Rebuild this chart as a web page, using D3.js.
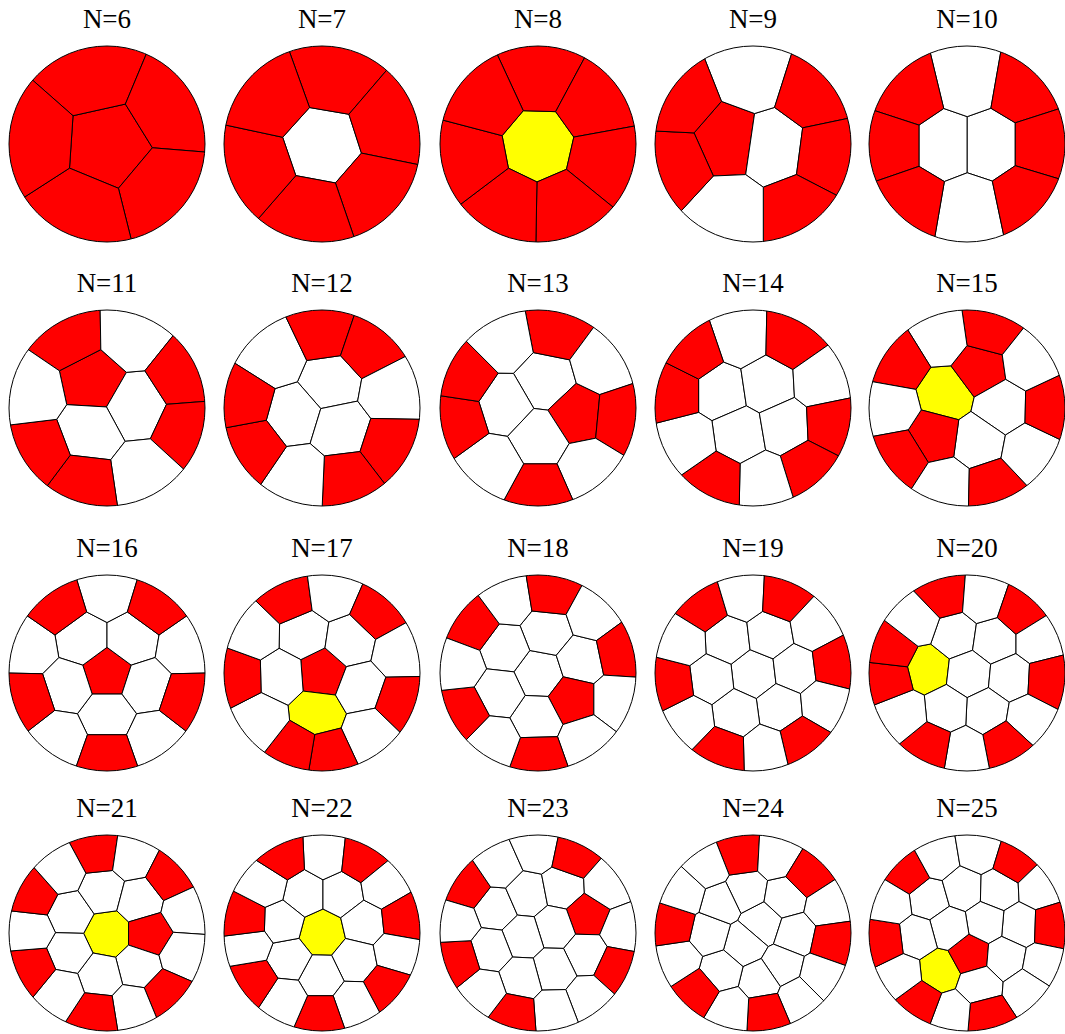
<!DOCTYPE html>
<html>
<head>
<meta charset="utf-8">
<script src="https://cdn.jsdelivr.net/npm/d3@7"></script>
<style>
  body { margin: 0; background: #fff; }
</style>
</head>
<body>
<svg width="1065" height="1034"></svg>
<script>
// generator points of every tessellation, in units of the disk radius (y grows downward)
// kind: R = red cell, W = white cell, Y = yellow cell (one letter per point)
const pts6 = [[0.01,0.01],[-0.15,-0.71],[0.64,-0.38],[0.57,0.48],[-0.27,0.69],[-0.74,-0.04]];
const kind6 = "RRRRRR";
const pts7 = [[0.00,0.01],[0.12,-0.69],[0.68,-0.21],[0.54,0.48],[-0.13,0.71],[-0.67,0.24],[-0.52,-0.46]];
const kind7 = "WRRRRRR";
const pts8 = [[0.00,0.01],[0.02,-0.68],[0.56,-0.39],[0.66,0.16],[0.27,0.64],[-0.30,0.63],[-0.67,0.14],[-0.52,-0.43]];
const kind8 = "YRRRRRRR";
const pts9 = [[-0.27,-0.03],[0.21,0.04],[-0.02,-0.71],[0.61,-0.51],[0.74,0.11],[0.45,0.67],[-0.24,0.67],[-0.76,0.19],[-0.73,-0.43]];
const kind9 = "RWWRRRWRR";
const pts10 = [[-0.23,0.01],[0.235,0.01],[0.0,-0.65],[0.02,0.66],[-0.58,-0.51],[-0.75,0.01],[-0.56,0.56],[0.57,-0.55],[0.75,0.01],[0.59,0.54]];
const kind10 = "WWWWRRRRRR";
const pts11 = [[-0.15,-0.28],[0.30,-0.02],[-0.18,0.24],[-0.37,-0.71],[0.24,-0.72],[0.75,-0.31],[0.79,0.21],[0.37,0.67],[-0.24,0.76],[-0.68,0.43],[-0.75,-0.15]];
const kind11 = "RWWRWRRWRRW";
const pts12 = [[0.09,-0.27],[-0.30,0.07],[0.19,0.22],[-0.48,-0.52],[0.02,-0.76],[0.46,-0.61],[0.69,-0.16],[0.68,0.38],[0.25,0.71],[-0.22,0.69],[-0.69,0.37],[-0.77,-0.06]];
const kind12 = "WWWWRRWRRWRR";
const pts13 = [[0.08,-0.28],[-0.35,-0.03],[0.40,0.06],[0.01,0.31],[0.18,-0.78],[0.64,-0.44],[0.82,0.10],[0.51,0.61],[0.01,0.83],[-0.45,0.58],[-0.79,0.11],[-0.73,-0.29],[-0.34,-0.68]];
const kind13 = "WWRWRWRWRWRRW";
const pts14 = [[-0.33,-0.17],[0.14,-0.24],[-0.14,0.27],[0.33,0.19],[-0.12,-0.71],[0.39,-0.70],[0.69,-0.27],[0.78,0.17],[0.56,0.60],[0.11,0.74],[-0.38,0.73],[-0.65,0.34],[-0.78,-0.17],[-0.59,-0.55]];
const kind14 = "WWWWWRWRRWRWRR";
const pts15 = [[-0.22,-0.14],[0.13,-0.40],[0.35,-0.01],[0.11,0.34],[-0.33,0.28],[0.23,-0.78],[-0.26,-0.71],[-0.68,-0.45],[-0.76,0.00],[-0.67,0.49],[-0.22,0.78],[0.26,0.79],[0.63,0.44],[0.84,0.00],[0.62,-0.47]];
const kind15 = "YRWWRRWRWRWRWRW";
const pts16 = [[0.00,0.00],[-0.25,-0.34],[0.25,-0.34],[0.40,0.13],[0.00,0.43],[-0.40,0.13],[0.00,-0.82],[0.78,-0.25],[0.48,0.66],[-0.48,0.66],[-0.78,-0.25],[0.49,-0.67],[0.79,0.26],[0.00,0.83],[-0.79,0.26],[-0.49,-0.67]];
const kind16 = "RWWWWWWWWWWRRRRR";
const pts17 = [[0.00,0.00],[-0.05,0.41],[-0.19,-0.39],[0.28,-0.32],[0.39,0.15],[-0.41,0.03],[-0.34,-0.75],[0.10,-0.81],[0.56,-0.61],[0.78,-0.21],[0.79,0.29],[0.48,0.61],[0.05,0.81],[-0.25,0.76],[-0.62,0.47],[-0.84,0.04],[-0.68,-0.40]];
const kind17 = "RYWWWWRWRWRWRRWRW";
const pts18 = [[0.01,0.01],[0.09,-0.42],[-0.34,-0.25],[0.44,-0.13],[0.35,0.27],[-0.01,0.46],[-0.39,0.20],[-0.65,-0.48],[-0.30,-0.74],[0.13,-0.81],[0.55,-0.58],[0.82,-0.21],[0.79,0.27],[0.48,0.68],[0.00,0.85],[-0.44,0.69],[-0.75,0.39],[-0.80,-0.08]];
const kind18 = "WWWWRWWRWRWRWWRWRW";
const pts19 = [[0.01,0.01],[-0.26,-0.34],[0.17,-0.39],[0.43,-0.04],[0.27,0.35],[-0.17,0.41],[-0.43,0.06],[-0.50,-0.66],[-0.10,-0.78],[0.31,-0.76],[0.62,-0.47],[0.82,-0.09],[0.72,0.31],[0.50,0.69],[0.12,0.78],[-0.31,0.79],[-0.64,0.47],[-0.82,0.11],[-0.71,-0.32]];
const kind19 = "WWWWWWWRWRWRWRWRWRW";
const pts20 = [[-0.41,-0.04],[-0.13,-0.39],[0.28,-0.33],[0.02,0.01],[0.44,0.05],[0.20,0.39],[-0.21,0.37],[-0.23,-0.78],[0.16,-0.75],[0.54,-0.62],[0.72,-0.33],[0.82,0.07],[0.62,0.46],[0.39,0.71],[-0.02,0.79],[-0.37,0.73],[-0.63,0.41],[-0.77,0.05],[-0.74,-0.21],[-0.50,-0.52]];
const kind20 = "YWWWWWWRWRWRWRWRWRRW";
const pts21 = [[0.01,0.01],[-0.38,-0.20],[-0.05,-0.43],[0.33,-0.33],[0.43,0.01],[0.32,0.34],[-0.07,0.44],[-0.39,0.20],[-0.09,-0.82],[0.25,-0.77],[0.64,-0.57],[0.80,-0.22],[0.77,0.22],[0.60,0.61],[0.26,0.75],[-0.11,0.81],[-0.46,0.58],[-0.74,0.35],[-0.77,-0.02],[-0.73,-0.38],[-0.46,-0.62]];
const kind21 = "YWWWRWWWRWRWWRWRWRWRW";
const pts22 = [[0.00,0.00],[-0.18,-0.40],[0.20,-0.40],[0.43,-0.10],[0.34,0.28],[-0.01,0.45],[-0.34,0.27],[-0.41,-0.11],[0.03,-0.78],[0.40,-0.74],[0.62,-0.47],[0.81,-0.14],[0.75,0.20],[0.65,0.54],[0.33,0.71],[-0.01,0.83],[-0.38,0.67],[-0.67,0.48],[-0.73,0.12],[-0.76,-0.12],[-0.57,-0.49],[-0.40,-0.76]];
const kind22 = "YWWWWWWWWRWRWRWRWRWRWR";
const pts23 = [[-0.43,-0.25],[-0.11,-0.39],[0.25,-0.46],[0.50,-0.18],[0.17,-0.06],[-0.15,0.04],[-0.48,0.17],[0.49,0.21],[0.16,0.37],[-0.17,0.46],[-0.71,-0.47],[-0.40,-0.68],[-0.02,-0.85],[0.36,-0.77],[0.69,-0.48],[0.86,-0.03],[0.79,0.35],[0.51,0.66],[0.17,0.79],[-0.24,0.82],[-0.54,0.59],[-0.80,0.27],[-0.82,-0.10]];
const kind23 = "WWWRWWWWWWRWWRWWRWWRWRW";
const pts24 = [[0.09,-0.10],[-0.09,0.11],[-0.08,-0.43],[0.33,-0.36],[0.43,0.01],[0.30,0.34],[0.08,0.49],[-0.33,0.39],[-0.45,0.01],[-0.33,-0.31],[-0.13,-0.79],[0.24,-0.77],[0.55,-0.58],[0.75,-0.27],[0.80,0.09],[0.68,0.43],[0.46,0.65],[0.13,0.79],[-0.23,0.77],[-0.55,0.58],[-0.75,0.27],[-0.80,-0.07],[-0.69,-0.41],[-0.46,-0.66]];
const kind24 = "WWWWWWWWWWRWRWRWWRWRWRWW";
const pts25 = [[-0.28,0.39],[0.03,0.22],[-0.39,-0.35],[-0.04,-0.45],[0.32,-0.44],[0.54,-0.08],[0.19,-0.11],[-0.18,-0.05],[-0.51,0.04],[0.39,0.25],[0.12,0.53],[-0.59,-0.60],[-0.30,-0.76],[0.12,-0.83],[0.48,-0.72],[0.73,-0.46],[0.85,-0.07],[0.77,0.32],[0.61,0.57],[0.20,0.84],[-0.15,0.81],[-0.47,0.69],[-0.66,0.43],[-0.83,0.08],[-0.77,-0.30]];
const kind25 = "YRWWWWWWWWWRWWRWRWWRWRWRW";

const counts = d3.range(6, 26);
const pointSets = [pts6, pts7, pts8, pts9, pts10, pts11, pts12, pts13, pts14, pts15,
                   pts16, pts17, pts18, pts19, pts20, pts21, pts22, pts23, pts24, pts25];
const kindSets = [kind6, kind7, kind8, kind9, kind10, kind11, kind12, kind13, kind14, kind15,
                  kind16, kind17, kind18, kind19, kind20, kind21, kind22, kind23, kind24, kind25];

var colCenters = [107, 322, 538, 753, 967],
    rowCenters = [144, 408, 673, 933],
    radius = 98;
var fillOf = { R: "#ff0000", W: "#ffffff", Y: "#ffff00" };

var svg = d3.select("svg");

counts.forEach(function(n, k) {
  var cx = colCenters[k % 5],
      cy = rowCenters[Math.floor(k / 5)];
  var x = d3.scaleLinear().domain([-1, 1]).range([cx - radius, cx + radius]),
      y = d3.scaleLinear().domain([-1, 1]).range([cy - radius, cy + radius]);
  var pts = pointSets[k], kind = kindSets[k];

  var voronoi = d3.Delaunay.from(pts, function(d) { return x(d[0]); }, function(d) { return y(d[1]); })
      .voronoi([cx - radius - 10, cy - radius - 10, cx + radius + 10, cy + radius + 10]);

  var panel = svg.append("g");
  panel.append("clipPath")
      .attr("id", "disk" + n)
    .append("circle")
      .attr("cx", cx).attr("cy", cy).attr("r", radius);

  panel.append("g")
      .attr("clip-path", "url(#disk" + n + ")")
    .selectAll("path")
    .data(pts)
    .enter()
    .append("path")
      .attr("d", function(d, i) { return voronoi.renderCell(i); })
      .attr("fill", function(d, i) { return fillOf[kind[i]]; })
      .attr("stroke", "#000")
      .attr("stroke-width", 1)
      .attr("stroke-linejoin", "round");

  panel.append("circle")
      .attr("cx", cx).attr("cy", cy).attr("r", radius)
      .attr("fill", "none")
      .attr("stroke", "#000")
      .attr("stroke-width", 1);

  panel.append("text")
      .attr("x", cx)
      .attr("y", cy - 116)
      .attr("text-anchor", "middle")
      .attr("font-family", "Liberation Serif, Times New Roman, serif")
      .attr("font-size", 27)
      .text("N=" + n);
});
</script>
</body>
</html>
